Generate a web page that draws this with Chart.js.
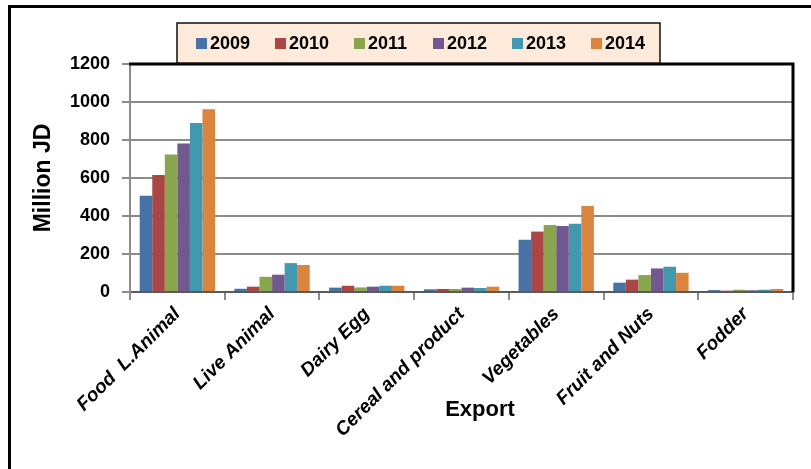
<!DOCTYPE html>
<html>
<head>
<meta charset="utf-8">
<title>Export</title>
<script src="https://cdn.jsdelivr.net/npm/chart.js@4.4.1/dist/chart.umd.min.js"></script>
<style>
  body { margin: 0; background: #fff; }
  canvas { display: block; }
</style>
</head>
<body>
<canvas id="myChart" width="811" height="469"></canvas>
<script>
const categories = ['Food  L.Animal', 'Live Animal', 'Dairy Egg', 'Cereal and product', 'Vegetables', 'Fruit and Nuts', 'Fodder'];
const years = ['2009', '2010', '2011', '2012', '2013', '2014'];
const values2009 = [507, 17, 23, 14, 275, 49, 10];
const values2010 = [616, 28, 33, 16, 318, 65, 7];
const values2011 = [724, 80, 24, 16, 352, 89, 12];
const values2012 = [782, 91, 28, 23, 348, 124, 9];
const values2013 = [889, 152, 33, 21, 359, 133, 12];
const values2014 = [962, 142, 33, 28, 453, 101, 16];
const yTicks = [0, 200, 400, 600, 800, 1000, 1200];
const colors = ['#4672A8', '#AA4643', '#89A54E', '#71588F', '#4198AF', '#DB843D'];
const xTitle = 'Export';
const yTitle = 'Million JD';

const font = '"Liberation Sans", Arial, sans-serif';
const series = [values2009, values2010, values2011, values2012, values2013, values2014];

// frame, plot border, legend box and the bottom title
const decorations = {
    id: 'decorations',
    beforeDraw(chart) {
        const ctx = chart.ctx;
        ctx.save();
        ctx.fillStyle = '#fff';
        ctx.fillRect(0, 0, chart.width, chart.height);
        ctx.fillStyle = '#000';
        ctx.fillRect(8, 5, chart.width, 3);
        ctx.fillRect(8, 5, 3, chart.height);
        ctx.restore();
    },
    afterDraw(chart) {
        const ctx = chart.ctx;
        const area = chart.chartArea;
        ctx.save();

        ctx.strokeStyle = '#000';
        ctx.lineWidth = 3;
        ctx.beginPath();
        ctx.moveTo(area.left - 1, area.top);
        ctx.lineTo(area.right, area.top);
        ctx.lineTo(area.right, area.bottom);
        ctx.stroke();

        // legend
        ctx.fillStyle = '#FDEADA';
        ctx.fillRect(177, 23, 483, 40);
        ctx.strokeStyle = '#111';
        ctx.lineWidth = 1.5;
        ctx.strokeRect(177, 23, 483, 40);
        ctx.font = 'bold 18px ' + font;
        ctx.textBaseline = 'middle';
        ctx.textAlign = 'left';
        chart.data.datasets.forEach((ds, i) => {
            const x = 196 + i * 79;
            ctx.fillStyle = ds.backgroundColor;
            ctx.fillRect(x, 38, 11, 11);
            ctx.fillStyle = '#000';
            ctx.fillText(ds.label, x + 14, 44);
        });

        ctx.font = 'bold 22px ' + font;
        ctx.textAlign = 'center';
        ctx.textBaseline = 'alphabetic';
        ctx.fillText(xTitle, 480, 416);
        ctx.restore();
    }
};

const config = {
    type: 'bar',
    data: {
        labels: categories,
        datasets: years.map((year, i) => ({
            label: year,
            data: series[i],
            backgroundColor: colors[i],
            borderWidth: 0,
            categoryPercentage: 0.795,
            barPercentage: 1
        }))
    },
    options: {
        responsive: false,
        animation: false,
        layout: { padding: { top: 64, left: 12, right: 18, bottom: 0 } },
        plugins: {
            legend: { display: false },
            tooltip: { enabled: false }
        },
        scales: {
            x: {
                grid: {
                    offset: true,
                    drawOnChartArea: false,
                    color: '#8C8C8C',
                    lineWidth: 2,
                    tickLength: 8
                },
                border: { color: '#5A5A5A', width: 2 },
                ticks: {
                    autoSkip: false,
                    minRotation: 45,
                    maxRotation: 45,
                    color: '#000',
                    font: { family: font, size: 19, weight: 'bold', style: 'italic' }
                },
                afterFit(scale) { scale.height = 177; }
            },
            y: {
                min: yTicks[0],
                max: yTicks[yTicks.length - 1],
                ticks: {
                    stepSize: yTicks[1] - yTicks[0],
                    padding: 12,
                    color: '#000',
                    font: { family: font, size: 18, weight: 'bold' },
                    callback: (value) => String(value)
                },
                grid: { color: '#8C8C8C', lineWidth: 2, tickLength: 8 },
                border: { color: '#8C8C8C', width: 2 },
                title: {
                    display: true,
                    text: yTitle,
                    color: '#000',
                    padding: { top: 18, bottom: 0 },
                    font: { family: font, size: 23, weight: 'bold' }
                },
                afterFit(scale) { scale.width = 118; }
            }
        }
    },
    plugins: [decorations]
};

const chart = new Chart(document.getElementById('myChart'), config);
</script>
</body>
</html>
